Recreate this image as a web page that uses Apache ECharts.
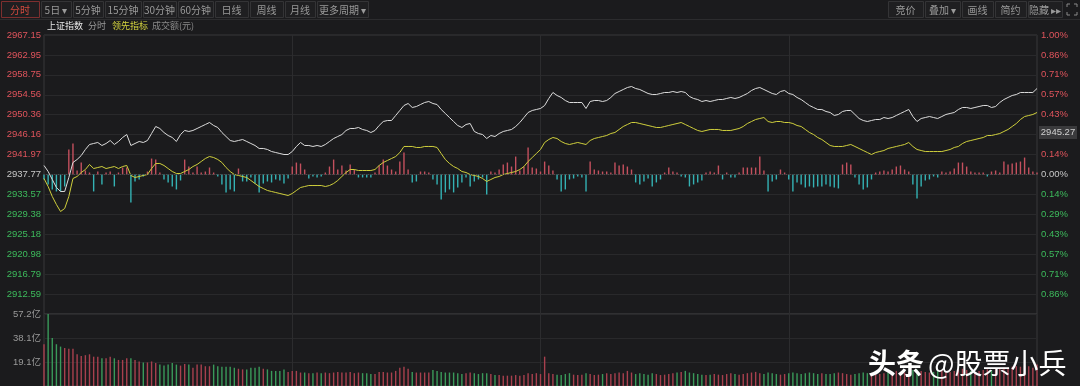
<!DOCTYPE html>
<html><head><meta charset="utf-8">
<script src="https://cdn.jsdelivr.net/npm/echarts@6/dist/echarts.min.js"></script>
<style>html,body{margin:0;padding:0;background:#1b1b1d;}#c{width:1080px;height:386px;}</style>
</head><body><div id="c"></div>
<script>
// ---------------- DATA ----------------
const prevClose = 2937.77;

// 上证指数 minute prices (09:30-11:30, 13:01-15:00)
const indexPrice = [
2939.67,2938.40,2936.72,2935.03,2934.19,2934.19,2937.14,2940.30,2940.93,2941.77,
2943.04,2944.09,2944.30,2944.51,2943.88,2944.30,2944.93,2944.09,2944.72,2945.56,
2946.19,2943.88,2944.30,2944.72,2944.51,2944.93,2946.40,2947.88,2947.46,2946.61,
2945.98,2945.56,2944.72,2946.19,2947.04,2946.83,2947.04,2947.46,2947.88,2948.30,
2948.72,2948.09,2947.67,2946.61,2945.77,2944.93,2944.72,2944.93,2945.14,2944.72,
2944.30,2943.88,2943.25,2943.25,2943.04,2942.61,2942.40,2942.19,2941.98,2941.98,
2942.61,2943.67,2944.51,2943.88,2943.88,2943.67,2943.88,2943.67,2944.09,2944.72,
2945.35,2945.77,2946.19,2947.04,2947.46,2947.46,2947.67,2947.25,2947.04,2946.61,
2947.04,2948.09,2948.93,2949.14,2949.14,2950.20,2951.25,2952.30,2952.72,2951.88,
2952.09,2952.51,2952.93,2953.14,2952.72,2952.51,2951.46,2950.62,2949.77,2948.93,
2948.09,2947.67,2948.30,2948.51,2946.83,2946.40,2946.19,2945.35,2945.98,2945.77,
2946.40,2946.83,2947.04,2947.25,2947.88,2948.72,2949.77,2950.83,2951.25,2951.46,
2951.67,2952.30,2953.78,2955.04,2954.41,2953.99,2953.35,2952.93,2952.93,2952.93,
2952.93,2951.67,2953.14,2953.35,2953.35,2953.14,2953.35,2953.99,2954.83,2955.25,
2955.67,2956.09,2956.30,2955.88,2955.67,2955.25,2954.83,2954.62,2954.62,2954.83,
2955.04,2955.04,2955.25,2955.04,2955.25,2955.04,2954.20,2953.78,2953.56,2953.14,
2953.35,2953.14,2953.35,2953.56,2953.56,2953.78,2953.99,2953.78,2953.99,2954.41,
2954.83,2955.46,2955.88,2956.09,2955.67,2955.25,2954.83,2954.62,2955.25,2955.46,
2954.83,2954.62,2953.99,2953.56,2952.93,2952.30,2951.88,2951.46,2951.46,2951.04,
2950.83,2950.20,2950.41,2951.04,2951.25,2951.25,2950.41,2949.56,2949.14,2948.93,
2949.14,2949.35,2949.35,2949.77,2949.56,2949.77,2950.20,2950.62,2951.04,2951.46,
2949.98,2948.93,2949.56,2949.77,2949.98,2949.77,2949.56,2949.98,2950.41,2950.62,
2950.83,2951.46,2951.88,2951.88,2951.67,2951.88,2952.09,2952.30,2952.30,2951.88,
2952.09,2952.93,2953.56,2953.99,2954.41,2954.62,2955.04,2955.04,2955.04,2955.04,
2955.88];

// 领先指标
const leadIndicator = [
2936.93,2935.24,2933.14,2931.45,2929.98,2930.61,2933.14,2936.93,2937.35,2938.19,
2938.82,2939.88,2939.03,2939.24,2939.45,2939.03,2939.24,2939.45,2939.03,2939.45,
2939.67,2937.56,2937.14,2937.35,2937.56,2937.77,2939.03,2940.09,2940.09,2939.67,
2939.03,2938.40,2937.98,2937.98,2938.40,2938.82,2939.45,2939.88,2940.51,2941.14,
2941.56,2941.35,2940.93,2940.30,2939.24,2938.40,2937.77,2937.56,2937.35,2937.14,
2936.51,2935.87,2935.24,2934.82,2934.40,2934.19,2933.98,2933.77,2933.56,2933.35,
2933.77,2934.40,2935.03,2935.24,2935.45,2935.45,2935.45,2935.45,2935.24,2935.45,
2935.87,2936.51,2937.35,2938.19,2938.82,2938.82,2938.61,2938.61,2938.61,2938.61,
2938.82,2939.67,2940.30,2940.72,2941.14,2941.56,2942.40,2943.67,2943.67,2943.67,
2943.46,2943.46,2943.67,2943.67,2943.67,2943.46,2942.19,2940.93,2940.09,2939.45,
2939.03,2938.40,2938.19,2937.77,2937.56,2937.35,2936.93,2936.30,2936.72,2937.14,
2937.35,2937.77,2937.98,2938.19,2938.40,2938.82,2939.45,2940.51,2941.35,2942.19,
2943.04,2944.51,2945.14,2945.56,2945.35,2944.72,2944.30,2944.09,2944.30,2944.51,
2944.30,2944.09,2944.93,2945.35,2945.56,2945.77,2945.98,2946.40,2946.62,2947.25,
2947.88,2948.30,2948.72,2948.72,2948.51,2948.30,2948.09,2947.88,2947.67,2947.67,
2947.88,2948.09,2948.30,2948.51,2948.72,2948.30,2947.88,2947.46,2947.04,2946.83,
2947.04,2947.25,2947.25,2947.25,2947.04,2947.04,2947.04,2947.25,2947.46,2947.88,
2948.51,2948.93,2949.35,2949.56,2949.77,2948.93,2948.72,2948.93,2948.93,2948.72,
2948.72,2948.51,2948.09,2947.88,2947.25,2946.62,2946.19,2945.56,2945.14,2944.51,
2943.88,2943.67,2943.67,2943.67,2943.88,2944.09,2943.67,2943.25,2942.82,2942.40,
2941.98,2942.40,2942.61,2942.82,2943.25,2943.46,2943.67,2943.88,2944.09,2944.51,
2943.67,2943.04,2942.82,2942.61,2942.61,2942.61,2942.61,2942.61,2942.82,2943.04,
2943.46,2943.67,2944.30,2944.72,2944.93,2945.14,2945.35,2945.56,2945.98,2945.98,
2946.19,2946.40,2946.83,2947.25,2947.88,2948.51,2949.35,2949.98,2950.19,2950.41,
2950.83];

// buy/sell strength bars (red up / cyan down)
const strength = [
-5,-10,-15,-17,-17,-12,25,31,4,12,
4,2,-17,3,-10,2,3,-12,2,7,
7,-28,-7,-5,-2,3,16,15,2,-5,
-8,-12,-15,-6,15,8,2,8,2,3,
7,2,-2,-10,-18,-15,-17,6,-7,-7,
-3,-9,-18,-9,-7,-8,-5,-6,-9,-4,
8,12,11,5,-4,-2,-3,-2,2,8,
15,5,9,4,10,5,-3,-3,-3,-3,
2,9,15,9,5,3,13,22,5,-8,
-7,3,3,2,-5,-10,-25,-18,-15,-18,
-13,-8,-3,-12,-7,-5,-3,-20,3,2,
5,10,12,8,18,4,8,27,7,6,
3,13,9,4,-5,-17,-15,-5,-4,-2,
-3,-17,13,5,4,3,3,2,12,9,
10,8,5,-8,-10,-7,-4,-12,-8,-5,
2,7,3,2,-2,-3,-12,-10,-8,-6,
2,3,2,9,-5,2,-3,-3,2,7,
7,7,7,18,4,-17,-7,-5,5,2,
-5,-17,-8,-10,-13,-12,-13,-12,-12,-10,
-12,-13,-14,10,12,10,-3,-10,-15,-13,
-5,2,3,4,3,5,8,9,5,3,
-10,-24,-12,-6,-5,-2,-3,3,2,3,
6,12,12,8,3,2,2,2,-2,3,
4,2,13,10,11,12,13,17,7,3,
2];

// 成交额 (亿元)
const turnover = [
33.2,57.2,38.2,33.2,31.3,30.2,29.5,29.5,25.2,23.8,
24.5,25.2,23.3,23.3,22.0,22.0,23.3,22.0,20.7,20.7,
22.0,22.0,20.7,19.5,18.7,18.7,19.5,18.2,17.0,16.2,
17.0,18.2,17.0,16.2,17.5,17.0,14.5,17.0,17.0,15.7,
15.7,17.0,15.7,15.3,15.3,15.3,14.5,13.7,13.2,13.2,
14.5,14.5,15.3,13.7,13.2,12.0,12.0,12.0,13.2,11.2,
12.0,12.0,10.7,10.7,10.2,10.2,10.7,10.2,10.7,10.2,
10.7,11.2,10.7,10.7,11.2,10.2,10.7,10.2,10.2,9.5,
9.5,11.2,11.2,10.7,10.7,12.0,14.5,15.3,13.7,11.2,
10.7,10.7,10.7,10.7,12.7,12.0,11.2,10.7,10.7,10.7,
10.2,9.5,10.2,10.7,10.2,9.5,10.2,10.2,9.5,8.7,
8.7,8.2,8.2,8.2,8.7,8.2,8.7,10.2,9.5,10.2,
9.5,23.3,10.2,9.5,9.0,8.7,9.5,10.2,9.0,8.7,
9.0,10.2,9.5,8.7,9.0,9.5,10.2,9.5,10.2,10.7,
10.2,12.0,10.7,9.5,10.2,9.5,9.0,10.2,9.5,8.7,
9.0,9.5,10.2,10.7,11.2,12.0,10.7,10.2,9.5,9.0,
8.7,9.0,9.5,9.0,8.7,9.5,10.2,9.5,9.0,9.5,
10.2,10.7,11.2,10.2,9.5,10.7,10.2,9.5,9.0,9.5,
10.2,10.7,10.2,9.5,10.2,10.7,10.2,9.5,10.2,9.5,
9.5,10.2,10.7,10.2,9.5,9.0,9.5,10.2,10.7,10.2,
9.5,9.0,9.5,10.2,10.7,11.2,12.0,11.2,10.7,11.2,
12.7,13.2,12.0,11.2,10.7,11.2,12.0,12.7,12.0,11.2,
12.0,13.2,13.7,12.7,12.0,11.2,12.0,12.7,13.2,12.7,
13.2,13.7,14.5,14.5,15.3,15.7,15.3,16.2,15.7,14.5,
17.0];
const turnoverMax = 57.2;

const leftTabs = ['分时','5日 ▾','5分钟','15分钟','30分钟','60分钟','日线','周线','月线','更多周期 ▾'];
const rightTabs = ['竞价','叠加 ▾','画线','简约','隐藏 ▸▸'];
const legendItems = ['上证指数','分时','领先指标','成交额(元)'];
const hoverPriceLabel = '2945.27';
const watermarkBold = '头条';
const watermarkName = '@股票小兵';

// ---------------- LAYOUT / STYLE ----------------
const times = [];
const pad = n => (n < 10 ? '0' : '') + n;
for (let m = 9 * 60 + 30; m <= 11 * 60 + 30; m++) times.push(pad(Math.floor(m / 60)) + ':' + pad(m % 60));
for (let m = 13 * 60 + 1; m <= 15 * 60; m++) times.push(pad(Math.floor(m / 60)) + ':' + pad(m % 60));

const STEP = prevClose * 0.01 / 7;
const RED = '#e0545c', GREEN = '#3dbb5c', GRAYT = '#c8c8c8';
const FONT = '"Liberation Sans", "Noto Sans CJK SC", sans-serif';
const CJK = '"Noto Sans CJK SC", sans-serif';

function priceColor(v) {
  v = parseFloat(v);
  if (Math.abs(v - prevClose) < STEP / 2) return GRAYT;
  return v > prevClose ? RED : GREEN;
}
function pctColor(v) {
  v = parseFloat(v);
  if (Math.abs(v) < 0.05) return GRAYT;
  return v > 0 ? RED : GREEN;
}
const quarterLine = idx => idx === 60 || idx === 120 || idx === 180;

const graphics = [];
// toolbar
const leftEdges = [1, 41, 73, 105, 143, 178, 215, 250, 285, 317, 370];
leftTabs.forEach((t, i) => {
  const x0 = leftEdges[i], x1 = leftEdges[i + 1] - 2;
  const active = i === 0;
  graphics.push({type: 'rect', shape: {x: x0 + 0.5, y: 1.5, width: x1 - x0, height: 16},
    style: {fill: '#1f1f21', stroke: active ? '#7d2f2f' : '#343436', lineWidth: 1}, silent: true});
  graphics.push({type: 'text', style: {text: t, x: (x0 + x1) / 2, y: 10, textAlign: 'center', textVerticalAlign: 'middle',
    fill: active ? '#d2493e' : '#9a9a9a', fontSize: 10, fontFamily: CJK}, silent: true});
});
const rightEdges = [888, 925, 962, 995, 1028, 1064];
rightTabs.forEach((t, i) => {
  const x0 = rightEdges[i], x1 = rightEdges[i + 1] - 2;
  graphics.push({type: 'rect', shape: {x: x0 + 0.5, y: 1.5, width: x1 - x0, height: 16},
    style: {fill: '#1f1f21', stroke: '#343436', lineWidth: 1}, silent: true});
  graphics.push({type: 'text', style: {text: t, x: (x0 + x1) / 2, y: 10, textAlign: 'center', textVerticalAlign: 'middle',
    fill: '#9a9a9a', fontSize: 10, fontFamily: CJK}, silent: true});
});
// fullscreen icon
[[1067,7,1067,4,1070,4],[1074,4,1077,4,1077,7],[1067,12,1067,15,1070,15],[1074,15,1077,15,1077,12]].forEach(p => {
  graphics.push({type: 'polyline', shape: {points: [[p[0],p[1]],[p[2],p[3]],[p[4],p[5]]]}, style: {stroke: '#8a8a8a', lineWidth: 1, fill: null}, silent: true});
});
graphics.push({type: 'line', shape: {x1: 0, y1: 19.5, x2: 1080, y2: 19.5}, style: {stroke: '#2c2c2e', lineWidth: 1}, silent: true});
// legend row
const legendX = [47, 88, 112, 152];
const legendColors = ['#e6e6e6', '#9a9a9a', '#d4d43e', '#8a8a8a'];
legendItems.forEach((t, i) => {
  graphics.push({type: 'text', style: {text: t, x: legendX[i], y: 26, textVerticalAlign: 'middle',
    fill: legendColors[i], fontSize: 9, fontFamily: CJK}, silent: true});
});
// hover price box on right axis
graphics.push({type: 'rect', shape: {x: 1039, y: 126, width: 38, height: 13}, style: {fill: '#3a3a3c'}, silent: true, z: 50});
graphics.push({type: 'text', style: {text: hoverPriceLabel, x: 1058, y: 132.5, textAlign: 'center', textVerticalAlign: 'middle',
  fill: '#d0d0d0', fontSize: 9.5, fontFamily: FONT}, silent: true, z: 51});
// watermark
graphics.push({type: 'text', style: {text: watermarkBold, x: 868, y: 363, textVerticalAlign: 'middle', fill: '#ffffff',
  fontSize: 28, fontWeight: 'bold', fontFamily: CJK, shadowColor: 'rgba(0,0,0,0.9)', shadowBlur: 6}, silent: true, z: 60});
graphics.push({type: 'text', style: {text: watermarkName, x: 928, y: 363, textVerticalAlign: 'middle', fill: '#ffffff',
  fontSize: 28, fontFamily: CJK, shadowColor: 'rgba(0,0,0,0.9)', shadowBlur: 6}, silent: true, z: 60});

const splitColor = '#29292b';
const option = {
  animation: false,
  backgroundColor: '#1b1b1d',
  textStyle: {fontFamily: FONT},
  grid: [
    {left: 44, right: 43, top: 35, height: 279, show: true, borderColor: '#38383a', borderWidth: 1},
    {left: 44, right: 43, top: 314, height: 77, show: true, borderColor: '#38383a', borderWidth: 1}
  ],
  xAxis: [
    {type: 'category', gridIndex: 0, data: times, boundaryGap: false,
     axisLine: {show: false}, axisTick: {show: false}, axisLabel: {show: false},
     splitLine: {show: true, interval: quarterLine, lineStyle: {color: '#2c2c2e'}}},
    {type: 'category', gridIndex: 1, data: times, boundaryGap: false,
     axisLine: {show: false}, axisTick: {show: false}, axisLabel: {show: false},
     splitLine: {show: true, interval: quarterLine, lineStyle: {color: '#2c2c2e'}}}
  ],
  yAxis: [
    {type: 'value', gridIndex: 0, position: 'left', min: prevClose - 7 * STEP, max: prevClose + 7 * STEP, interval: STEP,
     axisLine: {show: false}, axisTick: {show: false},
     splitLine: {show: true, lineStyle: {color: splitColor}},
     axisLabel: {showMinLabel: false, margin: 3, fontSize: 9.5, fontFamily: FONT,
       formatter: v => v.toFixed(2), color: priceColor}},
    {type: 'value', gridIndex: 0, position: 'right', min: -1, max: 1, interval: 1 / 7,
     axisLine: {show: false}, axisTick: {show: false}, splitLine: {show: false},
     axisLabel: {showMinLabel: false, margin: 4, fontSize: 9.5, fontFamily: FONT,
       formatter: v => Math.abs(v).toFixed(2) + '%', color: pctColor}},
    {type: 'value', gridIndex: 0, show: false, min: -140, max: 140},
    {type: 'value', gridIndex: 1, position: 'left', min: 0, max: turnoverMax, interval: turnoverMax / 3,
     axisLine: {show: false}, axisTick: {show: false},
     splitLine: {show: true, lineStyle: {color: splitColor}},
     axisLabel: {showMinLabel: false, margin: 3, fontSize: 9.5, fontFamily: FONT, color: '#9a9a9a',
       formatter: v => v.toFixed(1) + '亿'}}
  ],
  series: [
    {type: 'bar', name: '强弱', xAxisIndex: 0, yAxisIndex: 2, data: strength, barWidth: 1.4, z: 1,
     itemStyle: {color: p => (p.value >= 0 ? '#c4505e' : '#34b2b4')}},
    {type: 'line', name: '领先指标', xAxisIndex: 0, yAxisIndex: 0, data: leadIndicator, showSymbol: false, z: 3,
     lineStyle: {color: '#cfcf3c', width: 1}},
    {type: 'line', name: '上证指数', xAxisIndex: 0, yAxisIndex: 0, data: indexPrice, showSymbol: false, z: 4,
     lineStyle: {color: '#dcdcdc', width: 1},
     markLine: {silent: true, symbol: 'none', label: {show: false}, data: [{yAxis: prevClose}],
       lineStyle: {color: '#4a4a4c', type: 'dotted', width: 1}}},
    {type: 'bar', name: '成交额', xAxisIndex: 1, yAxisIndex: 3, data: turnover, barWidth: 1.4,
     itemStyle: {color: p => {
       const i = p.dataIndex;
       const prev = i === 0 ? prevClose : indexPrice[i - 1];
       return indexPrice[i] >= prev ? '#a8404e' : '#3a9a5a';
     }}}
  ],
  graphic: {elements: graphics}
};
const chart = echarts.init(document.getElementById('c'));
chart.setOption(option);
</script>
</body></html>
